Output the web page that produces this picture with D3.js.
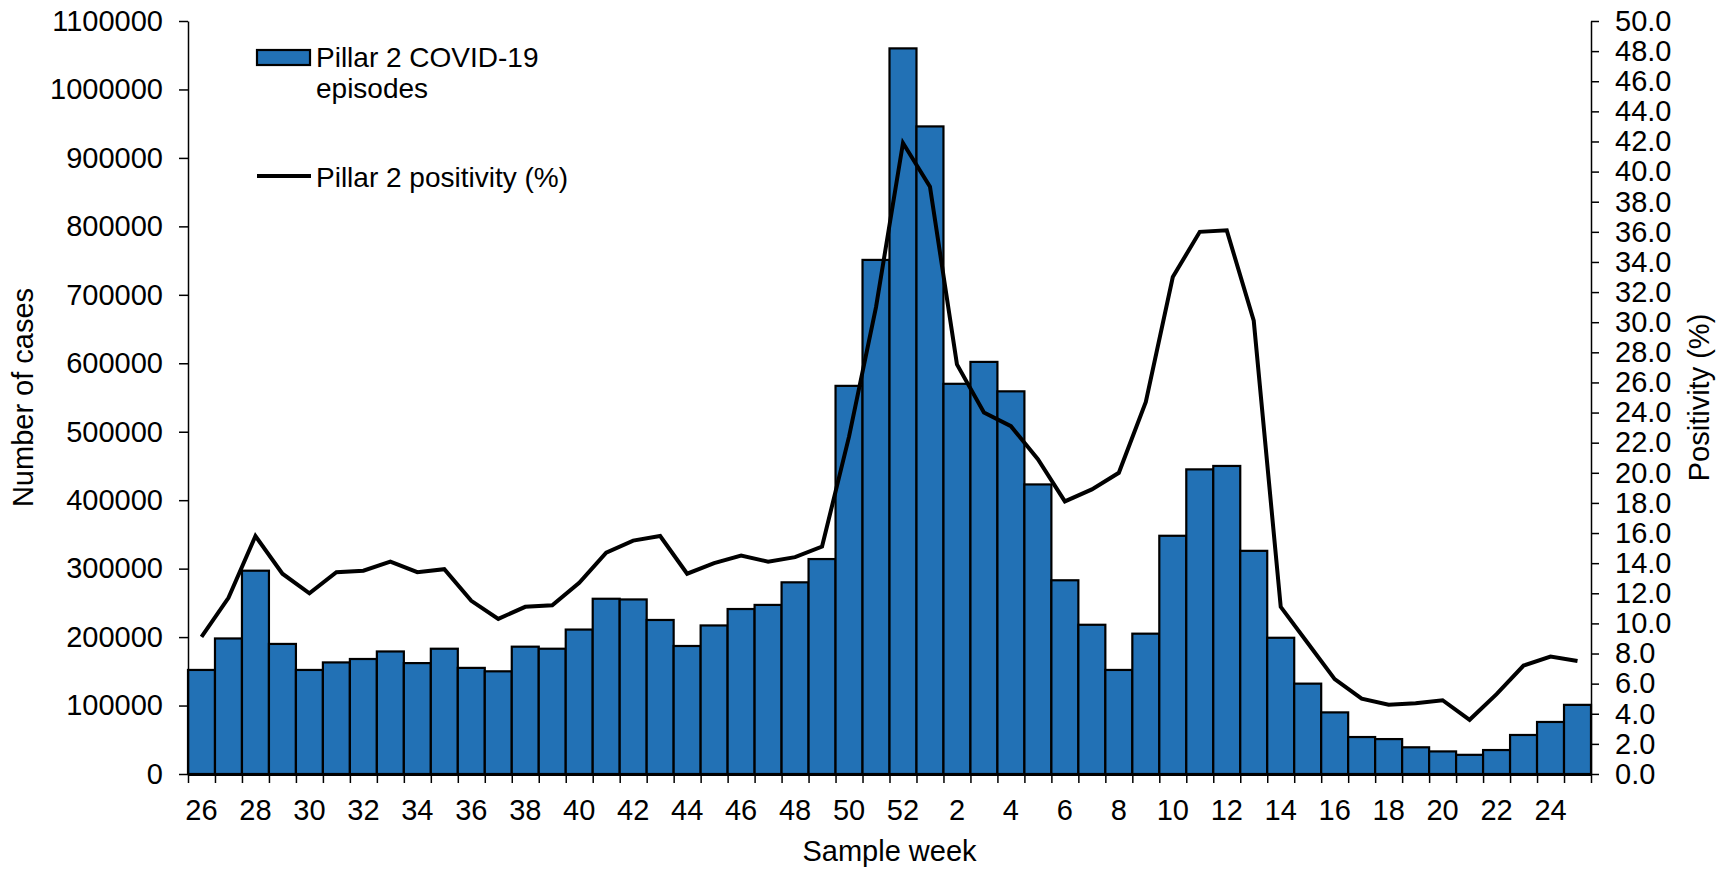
<!DOCTYPE html>
<html>
<head>
<meta charset="utf-8">
<script src="https://cdn.jsdelivr.net/npm/d3@7/dist/d3.min.js"></script>
<style>
  html, body { margin: 0; padding: 0; background: #fff; }
  svg { display: block; font-family: "Liberation Sans", Arial, sans-serif; }
</style>
</head>
<body>
<svg id="chart" width="1733" height="869"></svg>
<script>
// ---- data ----
const weeks = [26,27,28,29,30,31,32,33,34,35,36,37,38,39,40,41,42,43,44,45,46,47,48,49,50,51,52,
               1,2,3,4,5,6,7,8,9,10,11,12,13,14,15,16,17,18,19,20,21,22,23,24,25];
const cases = [152000,198000,297000,190000,152000,163000,168000,179000,162000,183000,155000,150000,186000,183000,
               211000,256000,255000,225000,187000,217000,241000,247000,280000,314000,567000,751000,1060000,
               946000,570000,602000,559000,423000,283000,218000,152000,205000,348000,445000,450000,326000,
               199000,132000,90000,54000,51000,39000,33000,28000,35000,57000,76000,101000];
const positivity = [9.1,11.7,15.8,13.3,12.0,13.4,13.5,14.1,13.4,13.6,11.5,10.3,11.1,11.2,
                    12.7,14.7,15.5,15.8,13.3,14.0,14.5,14.1,14.4,15.1,22.4,31.0,41.9,
                    39.0,27.2,24.0,23.1,20.9,18.1,18.9,20.0,24.7,33.0,36.0,36.1,30.1,
                    11.1,8.7,6.3,5.0,4.6,4.7,4.9,3.6,5.3,7.2,7.8,7.5];
const leftTicks = d3.range(0, 1100001, 100000);
const rightTicks = d3.range(0, 50.001, 2);
const seriesNames = ["Pillar 2 COVID-19", "episodes", "Pillar 2 positivity (%)"];
const axisTitles = { x: "Sample week", yLeft: "Number of cases", yRight: "Positivity (%)" };

// ---- layout ----
const W = 1733, H = 869;
const m = { left: 188, right: 142, top: 21, bottom: 95 };
const x0 = m.left, x1 = W - m.right, y0 = H - m.bottom, y1 = m.top;
const FONT = 29;
const LEGEND_FONT = 28;

const svg = d3.select("#chart");

const xb = d3.scaleBand().domain(d3.range(weeks.length)).range([x0, x1]).padding(0);
const xl = d3.scaleLinear().domain([0, weeks.length]).range([x0, x1]);
const yL = d3.scaleLinear().domain([0, 1100000]).range([y0, y1]);
const yR = d3.scaleLinear().domain([0, 50]).range([y0, y1]);

// bars
svg.append("g").selectAll("rect").data(cases).join("rect")
  .attr("x", (d, i) => xb(i))
  .attr("y", d => yL(d))
  .attr("width", xb.bandwidth())
  .attr("height", d => yL(0) - yL(d))
  .attr("fill", "#2271b5")
  .attr("stroke", "#000")
  .attr("stroke-width", 2.2);

// line
const line = d3.line().x((d, i) => xb(i) + xb.bandwidth() / 2).y(d => yR(d));
svg.append("path").datum(positivity)
  .attr("d", line)
  .attr("fill", "none")
  .attr("stroke", "#000")
  .attr("stroke-width", 4)
  .attr("stroke-linejoin", "miter");

function styleAxis(g) {
  g.selectAll("path.domain").attr("stroke", "#000").attr("stroke-width", 1.5);
  g.selectAll(".tick line").attr("stroke", "#000").attr("stroke-width", 1.5);
  g.selectAll(".tick text").attr("fill", "#000").style("font-size", FONT + "px")
    .style("font-family", '"Liberation Sans", Arial, sans-serif');
}

// left axis
svg.append("g").attr("transform", `translate(${x0},0)`)
  .call(d3.axisLeft(yL).tickValues(leftTicks).tickFormat(d3.format("d")).tickSize(9).tickPadding(16).tickSizeOuter(0))
  .call(styleAxis);

// right axis
svg.append("g").attr("transform", `translate(${x1},0)`)
  .call(d3.axisRight(yR).tickValues(rightTicks).tickFormat(d3.format(".1f")).tickSize(8).tickPadding(16).tickSizeOuter(0))
  .call(styleAxis);

// x axis ticks at boundaries
svg.append("g").attr("transform", `translate(0,${y0})`)
  .call(d3.axisBottom(xl).tickValues(d3.range(0, weeks.length + 1)).tickFormat("").tickSize(9).tickSizeOuter(0))
  .call(styleAxis)
  .call(g => g.select("path.domain").attr("stroke-width", 3));

// x axis labels (every other week)
svg.append("g").attr("transform", `translate(0,${y0})`)
  .call(d3.axisBottom(xb).tickValues(d3.range(0, weeks.length, 2)).tickFormat(i => weeks[i]).tickSize(0).tickPadding(25))
  .call(styleAxis)
  .call(g => g.select("path.domain").remove());

// axis titles
svg.append("text").attr("x", (x0 + x1) / 2).attr("y", 861).attr("text-anchor", "middle")
  .style("font-size", FONT + "px").text(axisTitles.x);
svg.append("text").attr("transform", `translate(33,${(y0 + y1) / 2}) rotate(-90)`).attr("text-anchor", "middle")
  .style("font-size", FONT + "px").text(axisTitles.yLeft);
svg.append("text").attr("transform", `translate(1709,${(y0 + y1) / 2}) rotate(-90)`).attr("text-anchor", "middle")
  .style("font-size", FONT + "px").text(axisTitles.yRight);

// legend
const lg = svg.append("g");
lg.append("rect").attr("x", 257).attr("y", 50).attr("width", 53).attr("height", 15)
  .attr("fill", "#2271b5").attr("stroke", "#000").attr("stroke-width", 2.2);
lg.append("text").attr("x", 316).attr("y", 67).style("font-size", LEGEND_FONT + "px").text(seriesNames[0]);
lg.append("text").attr("x", 316).attr("y", 98).style("font-size", LEGEND_FONT + "px").text(seriesNames[1]);
lg.append("line").attr("x1", 257).attr("x2", 311).attr("y1", 176).attr("y2", 176)
  .attr("stroke", "#000").attr("stroke-width", 4);
lg.append("text").attr("x", 316).attr("y", 187).style("font-size", LEGEND_FONT + "px").text(seriesNames[2]);
</script>
</body>
</html>
